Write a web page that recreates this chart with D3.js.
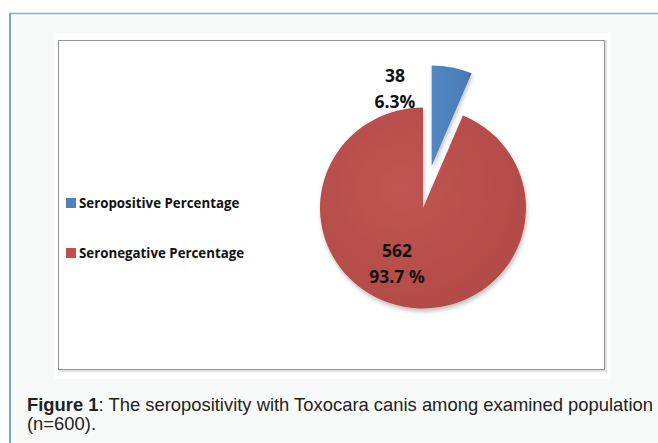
<!DOCTYPE html>
<html><head><meta charset="utf-8">
<script src="https://cdn.jsdelivr.net/npm/d3@7"></script>
<style>html,body{margin:0;padding:0;background:#fff;}svg{display:block;}</style>
</head><body>
<svg id="c" width="658" height="443"></svg>
<script>
const categories = ["Seropositive Percentage", "Seronegative Percentage"];
const counts = [38, 562];
const percentLabels = ["6.3%", "93.7 %"];
const colors = ["#4f81bd", "#c0504d"];
const caption = ["Figure 1", ": The seropositivity with Toxocara canis among examined population", "(n=600)."];

const svg = d3.select("#c");
const defs = svg.append("defs");

// frame
svg.append("rect").attr("x", 9).attr("y", 13).attr("width", 660).attr("height", 440).attr("fill", "#f8fafa");
svg.append("line").attr("x1", 9).attr("x2", 658).attr("y1", 13.5).attr("y2", 13.5).attr("stroke", "#7bb8b8").attr("stroke-width", 1.5);
svg.append("line").attr("x1", 10).attr("x2", 10).attr("y1", 13).attr("y2", 443).attr("stroke", "#6fb3b3").attr("stroke-width", 2);
svg.append("rect").attr("x", 54).attr("y", 33).attr("width", 557).attr("height", 346).attr("fill", "#fdfdfd");
// chart box
svg.append("rect").attr("x", 60).attr("y", 41).attr("width", 546).attr("height", 330).attr("fill", "none").attr("stroke", "#d8d8d8").attr("stroke-width", 1.5);
svg.append("rect").attr("x", 58.5).attr("y", 40.5).attr("width", 546).attr("height", 329).attr("fill", "#fff").attr("stroke", "#959595").attr("stroke-width", 1);

// gradients
const gr = defs.append("radialGradient").attr("id", "gRed").attr("cx", "40%").attr("cy", "40%").attr("r", "70%");
gr.append("stop").attr("offset", "0%").attr("stop-color", "#c05552");
gr.append("stop").attr("offset", "100%").attr("stop-color", "#b14a47");
const gb = defs.append("linearGradient").attr("id", "gBlue").attr("x1", "0%").attr("x2", "100%").attr("y1", "0%").attr("y2", "0%");
gb.append("stop").attr("offset", "0%").attr("stop-color", "#5287c2");
gb.append("stop").attr("offset", "85%").attr("stop-color", "#4a7db8");
gb.append("stop").attr("offset", "100%").attr("stop-color", "#3d6a9e");
const fill = ["url(#gBlue)", "url(#gRed)"];
const sh = defs.append("filter").attr("id", "sh").attr("x", "-20%").attr("y", "-20%").attr("width", "140%").attr("height", "140%");
sh.append("feDropShadow").attr("dx", 1).attr("dy", 3).attr("stdDeviation", 2).attr("flood-color", "#000").attr("flood-opacity", 0.25);

// pie
const cx = 423, cy = 208, R = 103, tilt = 0.975, explode = 44;
const pie = d3.pie().sort(null).value(d => d);
const arcs = pie(counts);
const arc = d3.arc().innerRadius(0).outerRadius(R);
const g = svg.append("g").attr("transform", `translate(${cx},${cy})`);
const gp = g.append("g").attr("transform", `scale(1,${tilt})`);
gp.selectAll("path").data(arcs).join("path")
  .attr("d", arc)
  .attr("fill", (d, i) => fill[i])
  .attr("filter", "url(#sh)")
  .attr("transform", (d, i) => {
    if (i !== 0) return null;
    const m = (d.startAngle + d.endAngle) / 2;
    return `translate(${Math.sin(m) * explode},${-Math.cos(m) * explode})`;
  });

// data labels
const lblFont = "'Open Sans', 'Noto Sans', sans-serif";
const lblPos = [[-28, -126], [-26, 49]];
arcs.forEach((d, i) => {
  const t = g.append("text").attr("text-anchor", "middle").attr("font-family", lblFont)
    .attr("font-weight", "bold").attr("font-size", 17.5).attr("fill", "#111");
  t.append("tspan").attr("x", lblPos[i][0]).attr("y", lblPos[i][1]).text(counts[i]);
  t.append("tspan").attr("x", lblPos[i][0]).attr("y", lblPos[i][1] + 26).text(percentLabels[i]);
});

// legend
const lg = svg.append("g").attr("transform", "translate(66,198)");
categories.forEach((c, i) => {
  const row = lg.append("g").attr("transform", `translate(0,${i * 50})`);
  row.append("rect").attr("width", 10).attr("height", 10).attr("fill", colors[i]);
  row.append("text").attr("x", 13).attr("y", 10).attr("font-family", lblFont).attr("font-weight", "bold")
    .attr("font-size", 13.3).attr("fill", "#111").text(c);
});

// caption
const cap = svg.append("text").attr("font-family", "'Liberation Sans', Arial, sans-serif").attr("font-size", 18.4).attr("fill", "#222");
const l1 = cap.append("tspan").attr("x", 27).attr("y", 411);
l1.append("tspan").attr("font-weight", "bold").text(caption[0]);
l1.append("tspan").text(caption[1]);
cap.append("tspan").attr("x", 27).attr("y", 430).text(caption[2]);
</script>
</body></html>
